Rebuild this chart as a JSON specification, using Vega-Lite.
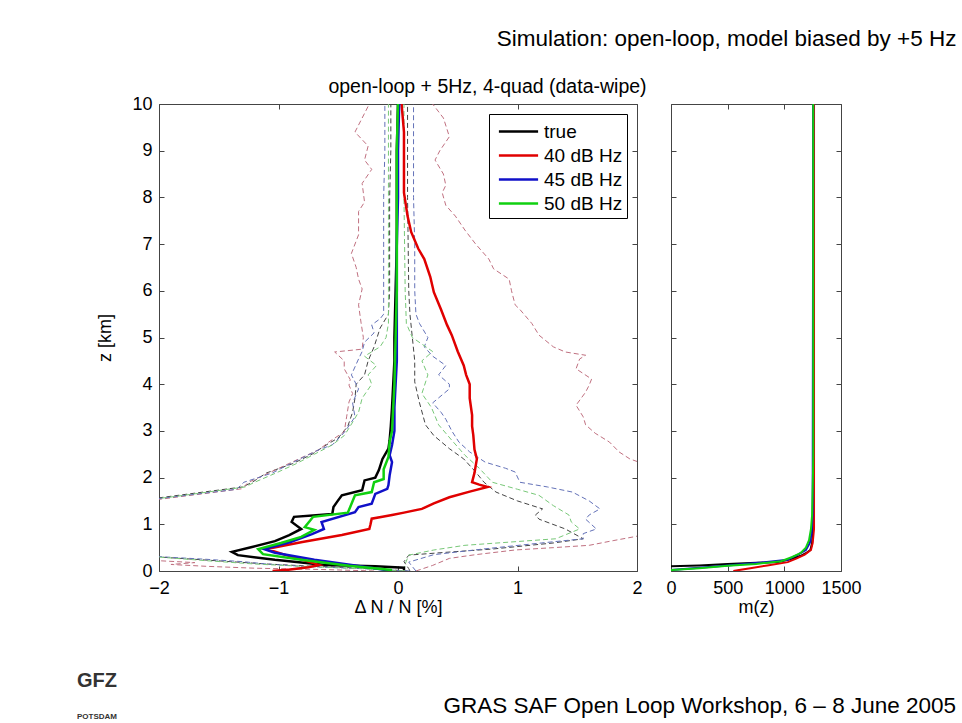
{
  "$schema": "https://vega.github.io/schema/vega-lite/v6.json",
  "background": "white",
  "padding": {"left": 76, "top": 27, "right": 0, "bottom": 0},
  "title": {"text": "Simulation: open-loop, model biased by +5 Hz", "anchor": "end", "fontSize": 22.5, "fontWeight": "normal", "color": "black", "offset": 27, "dx": 0},
  "datasets": {
    "solid": [
      {"s":"true","z":10,"x":0.0},{"s":"true","z":9,"x":-0.01},{"s":"true","z":8,"x":-0.01},{"s":"true","z":7,"x":-0.01},{"s":"true","z":6,"x":-0.02},{"s":"true","z":5,"x":-0.03},{"s":"true","z":4.5,"x":-0.03},{"s":"true","z":4,"x":-0.04},{"s":"true","z":3.5,"x":-0.05},{"s":"true","z":3.1,"x":-0.06},{"s":"true","z":2.8,"x":-0.07},{"s":"true","z":2.62,"x":-0.08},{"s":"true","z":2.4,"x":-0.13},{"s":"true","z":2.16,"x":-0.16},{"s":"true","z":2.0,"x":-0.19},{"s":"true","z":1.94,"x":-0.28},{"s":"true","z":1.73,"x":-0.3},{"s":"true","z":1.62,"x":-0.47},{"s":"true","z":1.48,"x":-0.51},{"s":"true","z":1.37,"x":-0.54},{"s":"true","z":1.22,"x":-0.55},{"s":"true","z":1.16,"x":-0.87},{"s":"true","z":1.05,"x":-0.89},{"s":"true","z":0.9,"x":-0.81},{"s":"true","z":0.77,"x":-0.91},{"s":"true","z":0.64,"x":-1.03},{"s":"true","z":0.51,"x":-1.23},{"s":"true","z":0.41,"x":-1.39},{"s":"true","z":0.34,"x":-1.34},{"s":"true","z":0.24,"x":-1.03},{"s":"true","z":0.13,"x":-0.61},{"s":"true","z":0.1,"x":-0.19},{"s":"true","z":0.07,"x":0.05},{"s":"true","z":0.02,"x":0.05},
      {"s":"40 dB Hz","z":10,"x":0.03},{"s":"40 dB Hz","z":9.4,"x":0.05},{"s":"40 dB Hz","z":8.8,"x":0.05},{"s":"40 dB Hz","z":8.1,"x":0.05},{"s":"40 dB Hz","z":7.6,"x":0.08},{"s":"40 dB Hz","z":7.26,"x":0.11},{"s":"40 dB Hz","z":6.9,"x":0.17},{"s":"40 dB Hz","z":6.68,"x":0.22},{"s":"40 dB Hz","z":6.3,"x":0.27},{"s":"40 dB Hz","z":5.97,"x":0.3},{"s":"40 dB Hz","z":5.6,"x":0.36},{"s":"40 dB Hz","z":5.27,"x":0.41},{"s":"40 dB Hz","z":5.05,"x":0.45},{"s":"40 dB Hz","z":4.7,"x":0.5},{"s":"40 dB Hz","z":4.4,"x":0.55},{"s":"40 dB Hz","z":4.2,"x":0.57},{"s":"40 dB Hz","z":4.0,"x":0.6},{"s":"40 dB Hz","z":3.7,"x":0.6},{"s":"40 dB Hz","z":3.34,"x":0.62},{"s":"40 dB Hz","z":3.1,"x":0.62},{"s":"40 dB Hz","z":2.91,"x":0.63},{"s":"40 dB Hz","z":2.6,"x":0.64},{"s":"40 dB Hz","z":2.4,"x":0.66},{"s":"40 dB Hz","z":2.1,"x":0.64},{"s":"40 dB Hz","z":1.9,"x":0.62},{"s":"40 dB Hz","z":1.85,"x":0.68},{"s":"40 dB Hz","z":1.8,"x":0.75},{"s":"40 dB Hz","z":1.7,"x":0.6},{"s":"40 dB Hz","z":1.58,"x":0.43},{"s":"40 dB Hz","z":1.45,"x":0.3},{"s":"40 dB Hz","z":1.33,"x":0.2},{"s":"40 dB Hz","z":1.25,"x":0.05},{"s":"40 dB Hz","z":1.2,"x":-0.05},{"s":"40 dB Hz","z":1.16,"x":-0.13},{"s":"40 dB Hz","z":1.12,"x":-0.22},{"s":"40 dB Hz","z":1.0,"x":-0.23},{"s":"40 dB Hz","z":0.9,"x":-0.24},{"s":"40 dB Hz","z":0.77,"x":-0.47},{"s":"40 dB Hz","z":0.62,"x":-0.8},{"s":"40 dB Hz","z":0.47,"x":-1.1},{"s":"40 dB Hz","z":0.35,"x":-0.95},{"s":"40 dB Hz","z":0.2,"x":-0.75},{"s":"40 dB Hz","z":0.13,"x":-0.66},{"s":"40 dB Hz","z":0.08,"x":-0.75},{"s":"40 dB Hz","z":0.03,"x":-0.9},{"s":"40 dB Hz","z":0.0,"x":-1.05},
      {"s":"45 dB Hz","z":10,"x":0.01},{"s":"45 dB Hz","z":9,"x":0.0},{"s":"45 dB Hz","z":8,"x":0.0},{"s":"45 dB Hz","z":7,"x":-0.01},{"s":"45 dB Hz","z":6,"x":-0.01},{"s":"45 dB Hz","z":5,"x":-0.01},{"s":"45 dB Hz","z":4.5,"x":-0.01},{"s":"45 dB Hz","z":4,"x":-0.02},{"s":"45 dB Hz","z":3.5,"x":-0.03},{"s":"45 dB Hz","z":3.0,"x":-0.03},{"s":"45 dB Hz","z":2.7,"x":-0.05},{"s":"45 dB Hz","z":2.48,"x":-0.07},{"s":"45 dB Hz","z":2.33,"x":-0.05},{"s":"45 dB Hz","z":2.05,"x":-0.07},{"s":"45 dB Hz","z":1.84,"x":-0.08},{"s":"45 dB Hz","z":1.76,"x":-0.09},{"s":"45 dB Hz","z":1.65,"x":-0.19},{"s":"45 dB Hz","z":1.44,"x":-0.22},{"s":"45 dB Hz","z":1.37,"x":-0.33},{"s":"45 dB Hz","z":1.26,"x":-0.36},{"s":"45 dB Hz","z":1.05,"x":-0.64},{"s":"45 dB Hz","z":0.9,"x":-0.62},{"s":"45 dB Hz","z":0.79,"x":-0.72},{"s":"45 dB Hz","z":0.62,"x":-0.9},{"s":"45 dB Hz","z":0.47,"x":-1.12},{"s":"45 dB Hz","z":0.39,"x":-1.03},{"s":"45 dB Hz","z":0.24,"x":-0.7},{"s":"45 dB Hz","z":0.11,"x":-0.33},{"s":"45 dB Hz","z":0.0,"x":-0.05},
      {"s":"50 dB Hz","z":10,"x":0.0},{"s":"50 dB Hz","z":9,"x":-0.01},{"s":"50 dB Hz","z":8,"x":-0.01},{"s":"50 dB Hz","z":7,"x":-0.01},{"s":"50 dB Hz","z":6,"x":-0.01},{"s":"50 dB Hz","z":5,"x":-0.02},{"s":"50 dB Hz","z":4,"x":-0.03},{"s":"50 dB Hz","z":3.5,"x":-0.04},{"s":"50 dB Hz","z":3.0,"x":-0.05},{"s":"50 dB Hz","z":2.76,"x":-0.07},{"s":"50 dB Hz","z":2.44,"x":-0.08},{"s":"50 dB Hz","z":2.18,"x":-0.12},{"s":"50 dB Hz","z":1.97,"x":-0.12},{"s":"50 dB Hz","z":1.9,"x":-0.2},{"s":"50 dB Hz","z":1.69,"x":-0.22},{"s":"50 dB Hz","z":1.62,"x":-0.36},{"s":"50 dB Hz","z":1.37,"x":-0.4},{"s":"50 dB Hz","z":1.25,"x":-0.42},{"s":"50 dB Hz","z":1.16,"x":-0.71},{"s":"50 dB Hz","z":0.94,"x":-0.78},{"s":"50 dB Hz","z":0.88,"x":-0.7},{"s":"50 dB Hz","z":0.73,"x":-0.81},{"s":"50 dB Hz","z":0.6,"x":-0.98},{"s":"50 dB Hz","z":0.47,"x":-1.17},{"s":"50 dB Hz","z":0.36,"x":-1.13},{"s":"50 dB Hz","z":0.24,"x":-0.81},{"s":"50 dB Hz","z":0.11,"x":-0.41},{"s":"50 dB Hz","z":0.02,"x":-0.05}
    ],
    "dash": [
      {"s":"true","side":"L","z":10,"x":-0.06},{"s":"true","side":"L","z":9,"x":-0.06},{"s":"true","side":"L","z":8,"x":-0.07},{"s":"true","side":"L","z":7,"x":-0.07},{"s":"true","side":"L","z":6,"x":-0.07},{"s":"true","side":"L","z":5.5,"x":-0.08},{"s":"true","side":"L","z":5.2,"x":-0.15},{"s":"true","side":"L","z":4.8,"x":-0.2},{"s":"true","side":"L","z":4.5,"x":-0.25},{"s":"true","side":"L","z":4.2,"x":-0.28},{"s":"true","side":"L","z":4.0,"x":-0.35},{"s":"true","side":"L","z":3.7,"x":-0.36},{"s":"true","side":"L","z":3.4,"x":-0.38},{"s":"true","side":"L","z":3.1,"x":-0.42},{"s":"true","side":"L","z":2.85,"x":-0.5},{"s":"true","side":"L","z":2.7,"x":-0.6},{"s":"true","side":"L","z":2.5,"x":-0.72},{"s":"true","side":"L","z":2.3,"x":-0.88},{"s":"true","side":"L","z":2.1,"x":-1.1},{"s":"true","side":"L","z":1.9,"x":-1.22},{"s":"true","side":"L","z":1.8,"x":-1.3},{"s":"true","side":"L","z":1.6,"x":-1.9},{"s":"true","side":"L","z":1.5,"x":-2.2},{"s":"true","side":"L","z":1.2,"x":-2.8},{"s":"true","side":"L","z":0.8,"x":-3.1},{"s":"true","side":"L","z":0.4,"x":-2.5},{"s":"true","side":"L","z":0.3,"x":-2.0},{"s":"true","side":"L","z":0.25,"x":-1.7},{"s":"true","side":"L","z":0.2,"x":-1.4},{"s":"true","side":"L","z":0.15,"x":-1.1},{"s":"true","side":"L","z":0.1,"x":-0.7},{"s":"true","side":"L","z":0.05,"x":-0.2},{"s":"true","side":"L","z":0,"x":0.08},
      {"s":"true","side":"R","z":10,"x":0.08},{"s":"true","side":"R","z":8,"x":0.08},{"s":"true","side":"R","z":6,"x":0.09},{"s":"true","side":"R","z":5.5,"x":0.1},{"s":"true","side":"R","z":5.0,"x":0.12},{"s":"true","side":"R","z":4.5,"x":0.14},{"s":"true","side":"R","z":4.05,"x":0.14},{"s":"true","side":"R","z":3.6,"x":0.18},{"s":"true","side":"R","z":3.13,"x":0.23},{"s":"true","side":"R","z":2.9,"x":0.3},{"s":"true","side":"R","z":2.62,"x":0.43},{"s":"true","side":"R","z":2.4,"x":0.55},{"s":"true","side":"R","z":2.12,"x":0.65},{"s":"true","side":"R","z":1.9,"x":0.72},{"s":"true","side":"R","z":1.69,"x":0.82},{"s":"true","side":"R","z":1.5,"x":1.0},{"s":"true","side":"R","z":1.33,"x":1.21},{"s":"true","side":"R","z":1.2,"x":1.15},{"s":"true","side":"R","z":1.11,"x":1.18},{"s":"true","side":"R","z":0.9,"x":1.4},{"s":"true","side":"R","z":0.69,"x":1.55},{"s":"true","side":"R","z":0.6,"x":1.3},{"s":"true","side":"R","z":0.47,"x":0.79},{"s":"true","side":"R","z":0.4,"x":0.4},{"s":"true","side":"R","z":0.34,"x":0.09},{"s":"true","side":"R","z":0.2,"x":0.05},{"s":"true","side":"R","z":0.05,"x":0.09},{"s":"true","side":"R","z":0,"x":0.1},
      {"s":"40 dB Hz","side":"L","z":10,"x":-0.24},{"s":"40 dB Hz","side":"L","z":9.7,"x":-0.3},{"s":"40 dB Hz","side":"L","z":9.4,"x":-0.36},{"s":"40 dB Hz","side":"L","z":9.1,"x":-0.25},{"s":"40 dB Hz","side":"L","z":8.8,"x":-0.28},{"s":"40 dB Hz","side":"L","z":8.6,"x":-0.22},{"s":"40 dB Hz","side":"L","z":8.3,"x":-0.3},{"s":"40 dB Hz","side":"L","z":7.9,"x":-0.28},{"s":"40 dB Hz","side":"L","z":7.7,"x":-0.33},{"s":"40 dB Hz","side":"L","z":7.2,"x":-0.33},{"s":"40 dB Hz","side":"L","z":6.8,"x":-0.39},{"s":"40 dB Hz","side":"L","z":6.5,"x":-0.35},{"s":"40 dB Hz","side":"L","z":6.25,"x":-0.33},{"s":"40 dB Hz","side":"L","z":6.04,"x":-0.3},{"s":"40 dB Hz","side":"L","z":5.7,"x":-0.33},{"s":"40 dB Hz","side":"L","z":5.33,"x":-0.31},{"s":"40 dB Hz","side":"L","z":5.0,"x":-0.29},{"s":"40 dB Hz","side":"L","z":4.75,"x":-0.3},{"s":"40 dB Hz","side":"L","z":4.69,"x":-0.53},{"s":"40 dB Hz","side":"L","z":4.5,"x":-0.45},{"s":"40 dB Hz","side":"L","z":4.33,"x":-0.45},{"s":"40 dB Hz","side":"L","z":4.1,"x":-0.4},{"s":"40 dB Hz","side":"L","z":3.98,"x":-0.41},{"s":"40 dB Hz","side":"L","z":3.8,"x":-0.38},{"s":"40 dB Hz","side":"L","z":3.62,"x":-0.41},{"s":"40 dB Hz","side":"L","z":3.3,"x":-0.43},{"s":"40 dB Hz","side":"L","z":2.98,"x":-0.45},{"s":"40 dB Hz","side":"L","z":2.76,"x":-0.58},{"s":"40 dB Hz","side":"L","z":2.6,"x":-0.66},{"s":"40 dB Hz","side":"L","z":2.4,"x":-0.83},{"s":"40 dB Hz","side":"L","z":2.16,"x":-1.03},{"s":"40 dB Hz","side":"L","z":1.9,"x":-1.25},{"s":"40 dB Hz","side":"L","z":1.76,"x":-1.31},{"s":"40 dB Hz","side":"L","z":1.54,"x":-1.98},{"s":"40 dB Hz","side":"L","z":1.4,"x":-2.6},{"s":"40 dB Hz","side":"L","z":0.8,"x":-3.0},{"s":"40 dB Hz","side":"L","z":0.3,"x":-2.4},{"s":"40 dB Hz","side":"L","z":0.22,"x":-2.0},{"s":"40 dB Hz","side":"L","z":0.18,"x":-1.7},{"s":"40 dB Hz","side":"L","z":0.14,"x":-1.9},{"s":"40 dB Hz","side":"L","z":0.1,"x":-1.6},{"s":"40 dB Hz","side":"L","z":0.06,"x":-1.2},{"s":"40 dB Hz","side":"L","z":0.03,"x":-0.6},{"s":"40 dB Hz","side":"L","z":0,"x":-0.2},
      {"s":"40 dB Hz","side":"R","z":10,"x":0.29},{"s":"40 dB Hz","side":"R","z":9.7,"x":0.38},{"s":"40 dB Hz","side":"R","z":9.3,"x":0.43},{"s":"40 dB Hz","side":"R","z":9.0,"x":0.35},{"s":"40 dB Hz","side":"R","z":8.8,"x":0.31},{"s":"40 dB Hz","side":"R","z":8.5,"x":0.38},{"s":"40 dB Hz","side":"R","z":8.26,"x":0.4},{"s":"40 dB Hz","side":"R","z":8.1,"x":0.37},{"s":"40 dB Hz","side":"R","z":7.83,"x":0.4},{"s":"40 dB Hz","side":"R","z":7.6,"x":0.48},{"s":"40 dB Hz","side":"R","z":7.3,"x":0.56},{"s":"40 dB Hz","side":"R","z":7.0,"x":0.65},{"s":"40 dB Hz","side":"R","z":6.68,"x":0.76},{"s":"40 dB Hz","side":"R","z":6.47,"x":0.8},{"s":"40 dB Hz","side":"R","z":6.25,"x":0.93},{"s":"40 dB Hz","side":"R","z":6.0,"x":0.95},{"s":"40 dB Hz","side":"R","z":5.7,"x":0.98},{"s":"40 dB Hz","side":"R","z":5.6,"x":1.02},{"s":"40 dB Hz","side":"R","z":5.3,"x":1.12},{"s":"40 dB Hz","side":"R","z":5.05,"x":1.18},{"s":"40 dB Hz","side":"R","z":4.8,"x":1.3},{"s":"40 dB Hz","side":"R","z":4.69,"x":1.4},{"s":"40 dB Hz","side":"R","z":4.62,"x":1.57},{"s":"40 dB Hz","side":"R","z":4.54,"x":1.52},{"s":"40 dB Hz","side":"R","z":4.33,"x":1.49},{"s":"40 dB Hz","side":"R","z":4.11,"x":1.62},{"s":"40 dB Hz","side":"R","z":3.98,"x":1.6},{"s":"40 dB Hz","side":"R","z":3.83,"x":1.57},{"s":"40 dB Hz","side":"R","z":3.55,"x":1.49},{"s":"40 dB Hz","side":"R","z":3.3,"x":1.55},{"s":"40 dB Hz","side":"R","z":3.13,"x":1.57},{"s":"40 dB Hz","side":"R","z":2.95,"x":1.65},{"s":"40 dB Hz","side":"R","z":2.76,"x":1.77},{"s":"40 dB Hz","side":"R","z":2.55,"x":1.85},{"s":"40 dB Hz","side":"R","z":2.4,"x":1.94},{"s":"40 dB Hz","side":"R","z":2.3,"x":2.05},{"s":"40 dB Hz","side":"R","z":2.0,"x":2.4},{"s":"40 dB Hz","side":"R","z":1.0,"x":2.6},{"s":"40 dB Hz","side":"R","z":0.8,"x":2.1},{"s":"40 dB Hz","side":"R","z":0.73,"x":1.97},{"s":"40 dB Hz","side":"R","z":0.65,"x":1.8},{"s":"40 dB Hz","side":"R","z":0.55,"x":1.6},{"s":"40 dB Hz","side":"R","z":0.5,"x":1.3},{"s":"40 dB Hz","side":"R","z":0.45,"x":0.98},{"s":"40 dB Hz","side":"R","z":0.35,"x":0.65},{"s":"40 dB Hz","side":"R","z":0.27,"x":0.43},{"s":"40 dB Hz","side":"R","z":0.12,"x":0.29},{"s":"40 dB Hz","side":"R","z":0,"x":0.15},
      {"s":"45 dB Hz","side":"L","z":10,"x":-0.11},{"s":"45 dB Hz","side":"L","z":9,"x":-0.11},{"s":"45 dB Hz","side":"L","z":8,"x":-0.12},{"s":"45 dB Hz","side":"L","z":7,"x":-0.12},{"s":"45 dB Hz","side":"L","z":6,"x":-0.12},{"s":"45 dB Hz","side":"L","z":5.5,"x":-0.12},{"s":"45 dB Hz","side":"L","z":5.4,"x":-0.15},{"s":"45 dB Hz","side":"L","z":5.27,"x":-0.22},{"s":"45 dB Hz","side":"L","z":5.1,"x":-0.2},{"s":"45 dB Hz","side":"L","z":4.9,"x":-0.28},{"s":"45 dB Hz","side":"L","z":4.7,"x":-0.3},{"s":"45 dB Hz","side":"L","z":4.54,"x":-0.33},{"s":"45 dB Hz","side":"L","z":4.2,"x":-0.39},{"s":"45 dB Hz","side":"L","z":3.9,"x":-0.33},{"s":"45 dB Hz","side":"L","z":3.6,"x":-0.38},{"s":"45 dB Hz","side":"L","z":3.3,"x":-0.36},{"s":"45 dB Hz","side":"L","z":3.0,"x":-0.44},{"s":"45 dB Hz","side":"L","z":2.91,"x":-0.47},{"s":"45 dB Hz","side":"L","z":2.7,"x":-0.55},{"s":"45 dB Hz","side":"L","z":2.6,"x":-0.66},{"s":"45 dB Hz","side":"L","z":2.45,"x":-0.78},{"s":"45 dB Hz","side":"L","z":2.3,"x":-0.9},{"s":"45 dB Hz","side":"L","z":2.1,"x":-1.05},{"s":"45 dB Hz","side":"L","z":1.9,"x":-1.29},{"s":"45 dB Hz","side":"L","z":1.75,"x":-1.35},{"s":"45 dB Hz","side":"L","z":1.55,"x":-2.0},{"s":"45 dB Hz","side":"L","z":1.4,"x":-2.6},{"s":"45 dB Hz","side":"L","z":0.8,"x":-3.2},{"s":"45 dB Hz","side":"L","z":0.32,"x":-2.05},{"s":"45 dB Hz","side":"L","z":0.3,"x":-1.95},{"s":"45 dB Hz","side":"L","z":0.25,"x":-1.6},{"s":"45 dB Hz","side":"L","z":0.2,"x":-1.3},{"s":"45 dB Hz","side":"L","z":0.15,"x":-1.1},{"s":"45 dB Hz","side":"L","z":0.1,"x":-0.8},{"s":"45 dB Hz","side":"L","z":0.05,"x":-0.3},{"s":"45 dB Hz","side":"L","z":0,"x":0.1},
      {"s":"45 dB Hz","side":"R","z":10,"x":0.13},{"s":"45 dB Hz","side":"R","z":9,"x":0.13},{"s":"45 dB Hz","side":"R","z":8,"x":0.13},{"s":"45 dB Hz","side":"R","z":7,"x":0.14},{"s":"45 dB Hz","side":"R","z":6,"x":0.14},{"s":"45 dB Hz","side":"R","z":5.5,"x":0.15},{"s":"45 dB Hz","side":"R","z":5.3,"x":0.18},{"s":"45 dB Hz","side":"R","z":5.0,"x":0.25},{"s":"45 dB Hz","side":"R","z":4.8,"x":0.22},{"s":"45 dB Hz","side":"R","z":4.6,"x":0.29},{"s":"45 dB Hz","side":"R","z":4.4,"x":0.4},{"s":"45 dB Hz","side":"R","z":4.2,"x":0.34},{"s":"45 dB Hz","side":"R","z":4.0,"x":0.43},{"s":"45 dB Hz","side":"R","z":3.9,"x":0.43},{"s":"45 dB Hz","side":"R","z":3.6,"x":0.29},{"s":"45 dB Hz","side":"R","z":3.4,"x":0.36},{"s":"45 dB Hz","side":"R","z":3.25,"x":0.4},{"s":"45 dB Hz","side":"R","z":3.0,"x":0.45},{"s":"45 dB Hz","side":"R","z":2.76,"x":0.51},{"s":"45 dB Hz","side":"R","z":2.55,"x":0.6},{"s":"45 dB Hz","side":"R","z":2.33,"x":0.73},{"s":"45 dB Hz","side":"R","z":2.2,"x":0.9},{"s":"45 dB Hz","side":"R","z":2.12,"x":0.98},{"s":"45 dB Hz","side":"R","z":1.9,"x":1.02},{"s":"45 dB Hz","side":"R","z":1.8,"x":1.25},{"s":"45 dB Hz","side":"R","z":1.69,"x":1.46},{"s":"45 dB Hz","side":"R","z":1.5,"x":1.6},{"s":"45 dB Hz","side":"R","z":1.33,"x":1.69},{"s":"45 dB Hz","side":"R","z":1.2,"x":1.6},{"s":"45 dB Hz","side":"R","z":1.11,"x":1.57},{"s":"45 dB Hz","side":"R","z":0.9,"x":1.66},{"s":"45 dB Hz","side":"R","z":0.8,"x":1.55},{"s":"45 dB Hz","side":"R","z":0.69,"x":1.55},{"s":"45 dB Hz","side":"R","z":0.6,"x":1.2},{"s":"45 dB Hz","side":"R","z":0.47,"x":0.71},{"s":"45 dB Hz","side":"R","z":0.35,"x":0.3},{"s":"45 dB Hz","side":"R","z":0.19,"x":0.09},{"s":"45 dB Hz","side":"R","z":0,"x":0.15},
      {"s":"50 dB Hz","side":"L","z":10,"x":-0.08},{"s":"50 dB Hz","side":"L","z":8,"x":-0.08},{"s":"50 dB Hz","side":"L","z":6,"x":-0.08},{"s":"50 dB Hz","side":"L","z":5.3,"x":-0.08},{"s":"50 dB Hz","side":"L","z":5.0,"x":-0.1},{"s":"50 dB Hz","side":"L","z":4.8,"x":-0.15},{"s":"50 dB Hz","side":"L","z":4.6,"x":-0.28},{"s":"50 dB Hz","side":"L","z":4.4,"x":-0.18},{"s":"50 dB Hz","side":"L","z":4.2,"x":-0.25},{"s":"50 dB Hz","side":"L","z":4.0,"x":-0.22},{"s":"50 dB Hz","side":"L","z":3.7,"x":-0.3},{"s":"50 dB Hz","side":"L","z":3.4,"x":-0.33},{"s":"50 dB Hz","side":"L","z":3.1,"x":-0.4},{"s":"50 dB Hz","side":"L","z":2.9,"x":-0.45},{"s":"50 dB Hz","side":"L","z":2.7,"x":-0.55},{"s":"50 dB Hz","side":"L","z":2.5,"x":-0.7},{"s":"50 dB Hz","side":"L","z":2.3,"x":-0.85},{"s":"50 dB Hz","side":"L","z":2.1,"x":-1.02},{"s":"50 dB Hz","side":"L","z":1.9,"x":-1.2},{"s":"50 dB Hz","side":"L","z":1.8,"x":-1.28},{"s":"50 dB Hz","side":"L","z":1.6,"x":-1.85},{"s":"50 dB Hz","side":"L","z":1.55,"x":-2.01},{"s":"50 dB Hz","side":"L","z":1.4,"x":-2.5},{"s":"50 dB Hz","side":"L","z":0.8,"x":-3.0},{"s":"50 dB Hz","side":"L","z":0.3,"x":-2.01},{"s":"50 dB Hz","side":"L","z":0.22,"x":-1.6},{"s":"50 dB Hz","side":"L","z":0.15,"x":-1.2},{"s":"50 dB Hz","side":"L","z":0.1,"x":-0.8},{"s":"50 dB Hz","side":"L","z":0.05,"x":-0.3},{"s":"50 dB Hz","side":"L","z":0,"x":0.05},
      {"s":"50 dB Hz","side":"R","z":10,"x":0.05},{"s":"50 dB Hz","side":"R","z":8,"x":0.05},{"s":"50 dB Hz","side":"R","z":6,"x":0.06},{"s":"50 dB Hz","side":"R","z":5.3,"x":0.07},{"s":"50 dB Hz","side":"R","z":5.0,"x":0.12},{"s":"50 dB Hz","side":"R","z":4.7,"x":0.29},{"s":"50 dB Hz","side":"R","z":4.5,"x":0.2},{"s":"50 dB Hz","side":"R","z":4.2,"x":0.25},{"s":"50 dB Hz","side":"R","z":3.8,"x":0.2},{"s":"50 dB Hz","side":"R","z":3.5,"x":0.28},{"s":"50 dB Hz","side":"R","z":3.13,"x":0.34},{"s":"50 dB Hz","side":"R","z":2.8,"x":0.45},{"s":"50 dB Hz","side":"R","z":2.48,"x":0.56},{"s":"50 dB Hz","side":"R","z":2.2,"x":0.68},{"s":"50 dB Hz","side":"R","z":1.9,"x":0.79},{"s":"50 dB Hz","side":"R","z":1.75,"x":1.0},{"s":"50 dB Hz","side":"R","z":1.62,"x":1.18},{"s":"50 dB Hz","side":"R","z":1.4,"x":1.3},{"s":"50 dB Hz","side":"R","z":1.2,"x":1.43},{"s":"50 dB Hz","side":"R","z":1.05,"x":1.45},{"s":"50 dB Hz","side":"R","z":0.9,"x":1.52},{"s":"50 dB Hz","side":"R","z":0.69,"x":1.32},{"s":"50 dB Hz","side":"R","z":0.55,"x":0.56},{"s":"50 dB Hz","side":"R","z":0.45,"x":0.3},{"s":"50 dB Hz","side":"R","z":0.34,"x":0.09},{"s":"50 dB Hz","side":"R","z":0.15,"x":0.06},{"s":"50 dB Hz","side":"R","z":0,"x":0.05}
    ],
    "mz": [
      {"s":"true","z":10,"m":1255},{"s":"true","z":3,"m":1255},{"s":"true","z":1.5,"m":1255},{"s":"true","z":1.1,"m":1253},{"s":"true","z":0.8,"m":1250},{"s":"true","z":0.6,"m":1245},{"s":"true","z":0.45,"m":1230},{"s":"true","z":0.38,"m":1190},{"s":"true","z":0.32,"m":1140},{"s":"true","z":0.25,"m":1050},{"s":"true","z":0.19,"m":944},{"s":"true","z":0.17,"m":700},{"s":"true","z":0.15,"m":500},{"s":"true","z":0.12,"m":250},{"s":"true","z":0.1,"m":0},
      {"s":"40 dB Hz","z":10,"m":1262},{"s":"40 dB Hz","z":2.5,"m":1262},{"s":"40 dB Hz","z":1.5,"m":1262},{"s":"40 dB Hz","z":0.9,"m":1262},{"s":"40 dB Hz","z":0.6,"m":1250},{"s":"40 dB Hz","z":0.45,"m":1235},{"s":"40 dB Hz","z":0.35,"m":1180},{"s":"40 dB Hz","z":0.27,"m":1110},{"s":"40 dB Hz","z":0.19,"m":1030},{"s":"40 dB Hz","z":0.12,"m":850},{"s":"40 dB Hz","z":0.06,"m":700},{"s":"40 dB Hz","z":0.02,"m":600},{"s":"40 dB Hz","z":0,"m":550},
      {"s":"45 dB Hz","z":10,"m":1255},{"s":"45 dB Hz","z":1.2,"m":1250},{"s":"45 dB Hz","z":0.8,"m":1240},{"s":"45 dB Hz","z":0.6,"m":1225},{"s":"45 dB Hz","z":0.45,"m":1190},{"s":"45 dB Hz","z":0.35,"m":1120},{"s":"45 dB Hz","z":0.28,"m":1060},{"s":"45 dB Hz","z":0.24,"m":1030},{"s":"45 dB Hz","z":0.18,"m":800},{"s":"45 dB Hz","z":0.12,"m":500},{"s":"45 dB Hz","z":0.07,"m":250},{"s":"45 dB Hz","z":0.02,"m":0},
      {"s":"50 dB Hz","z":10,"m":1255},{"s":"50 dB Hz","z":2.5,"m":1255},{"s":"50 dB Hz","z":2.1,"m":1253},{"s":"50 dB Hz","z":1.2,"m":1245},{"s":"50 dB Hz","z":0.9,"m":1235},{"s":"50 dB Hz","z":0.66,"m":1218},{"s":"50 dB Hz","z":0.5,"m":1190},{"s":"50 dB Hz","z":0.39,"m":1147},{"s":"50 dB Hz","z":0.3,"m":1070},{"s":"50 dB Hz","z":0.21,"m":971},{"s":"50 dB Hz","z":0.15,"m":750},{"s":"50 dB Hz","z":0.11,"m":500},{"s":"50 dB Hz","z":0.06,"m":250},{"s":"50 dB Hz","z":0.02,"m":0}
    ]
  },
  "vconcat": [
    {
      "title": {"text": "open-loop + 5Hz, 4-quad (data-wipe)", "fontSize": 19.5, "fontWeight": "normal", "anchor": "middle", "offset": -3, "dx": -29, "color": "black"},
      "bounds": "flush",
      "spacing": 34,
      "resolve": {"scale": {"color": "independent"}, "legend": {"color": "independent"}},
      "hconcat": [
        {
          "width": 478,
          "height": 467,
          "title": {"text": "GFZ", "subtitle": "POTSDAM", "orient": "bottom", "anchor": "start", "frame": "group", "dx": -82, "offset": 55, "fontSize": 20, "fontWeight": "bold", "color": "#333333", "subtitleFontSize": 8, "subtitleFontWeight": "bold", "subtitleColor": "#333333", "subtitlePadding": 22},
          "resolve": {"axis": {"x": "independent", "y": "independent"}},
          "layer": [
            {
              "data": {"name": "dash"},
              "mark": {"type": "line", "clip": true, "strokeWidth": 1, "strokeDash": [5, 3]},
              "encoding": {
                "x": {"field": "x", "type": "quantitative", "scale": {"domain": [-2, 2], "nice": false, "zero": false}, "axis": {"orient": "top", "labels": false, "title": null, "values": [-2, -1, 0, 1, 2]}},
                "y": {"field": "z", "type": "quantitative", "scale": {"domain": [0, 10], "nice": false}, "axis": {"orient": "right", "labels": false, "title": null, "values": [0,1,2,3,4,5,6,7,8,9,10]}},
                "stroke": {"field": "s", "type": "nominal", "scale": {"domain": ["true", "40 dB Hz", "45 dB Hz", "50 dB Hz"], "range": ["#454545", "#c07080", "#6472b8", "#78c878"]}, "legend": null},
                "detail": {"field": "side", "type": "nominal"},
                "order": {"field": "z", "type": "quantitative"}
              }
            },
            {
              "data": {"name": "solid"},
              "mark": {"type": "line", "clip": true, "strokeWidth": 2.5},
              "encoding": {
                "x": {"field": "x", "type": "quantitative", "scale": {"domain": [-2, 2], "nice": false, "zero": false}, "axis": {"orient": "bottom", "title": "Δ N / N [%]", "values": [-2, -1, 0, 1, 2], "labelPadding": 13, "titlePadding": 1}},
                "y": {"field": "z", "type": "quantitative", "scale": {"domain": [0, 10], "nice": false}, "axis": {"orient": "left", "title": "z [km]", "values": [0,1,2,3,4,5,6,7,8,9,10], "labelPadding": 12, "minExtent": 40, "maxExtent": 40, "titlePadding": 5}},
                "color": {"field": "s", "type": "nominal", "scale": {"domain": ["true", "40 dB Hz", "45 dB Hz", "50 dB Hz"], "range": ["#000000", "#e00000", "#1010c8", "#10d010"]}, "legend": {"title": null}},
                "order": {"field": "z", "type": "quantitative"}
              }
            }
          ]
        },
        {
          "width": 170,
          "height": 467,
          "title": {"text": "GRAS SAF Open Loop Workshop, 6 – 8 June 2005", "orient": "bottom", "anchor": "end", "frame": "group", "dx": 115, "offset": 79, "fontSize": 22.5, "fontWeight": "normal", "color": "black"},
          "data": {"name": "mz"},
          "resolve": {"axis": {"x": "independent", "y": "independent"}},
          "layer": [
            {
              "mark": {"type": "line", "clip": true, "strokeWidth": 2, "opacity": 0},
              "encoding": {
                "x": {"field": "m", "type": "quantitative", "scale": {"domain": [0, 1500], "nice": false}, "axis": {"orient": "top", "labels": false, "title": null, "values": [0, 500, 1000, 1500]}},
                "y": {"field": "z", "type": "quantitative", "scale": {"domain": [0, 10], "nice": false}, "axis": {"orient": "right", "labels": false, "title": null, "values": [0,1,2,3,4,5,6,7,8,9,10]}},
                "detail": {"field": "s", "type": "nominal"},
                "order": {"field": "z", "type": "quantitative"}
              }
            },
            {
              "mark": {"type": "line", "clip": true, "strokeWidth": 2},
              "encoding": {
                "x": {"field": "m", "type": "quantitative", "scale": {"domain": [0, 1500], "nice": false}, "axis": {"orient": "bottom", "title": "m(z)", "format": "d", "values": [0, 500, 1000, 1500], "labelPadding": 13, "titlePadding": 1}},
                "y": {"field": "z", "type": "quantitative", "scale": {"domain": [0, 10], "nice": false}, "axis": {"orient": "left", "labels": false, "title": null, "values": [0,1,2,3,4,5,6,7,8,9,10]}},
                "color": {"field": "s", "type": "nominal", "scale": {"domain": ["true", "40 dB Hz", "45 dB Hz", "50 dB Hz"], "range": ["#000000", "#e00000", "#1010c8", "#10d010"]}, "legend": null},
                "order": {"field": "z", "type": "quantitative"}
              }
            }
          ]
        }
      ]
    }
  ],
  "config": {
    "font": "Liberation Sans",
    "view": {"stroke": "#444444", "strokeWidth": 1},
    "axis": {"labelFontSize": 18, "titleFontSize": 18, "titleFontWeight": "normal", "labelColor": "black", "titleColor": "black", "domain": false, "grid": false, "ticks": true, "tickSize": -5, "tickColor": "#444444", "labelFlush": false, "labelOverlap": false},
    "legend": {"orient": "top-right", "offset": 10, "strokeColor": "#000000", "fillColor": "white", "padding": 4, "labelFontSize": 19, "symbolType": "M-1.6,0H1.6", "symbolSize": 600, "symbolStrokeWidth": 2.5, "symbolOffset": 12, "rowPadding": 0, "labelOffset": 12, "labelLimit": 300, "labelColor": "black"},
    "title": {"font": "Liberation Sans"}
  }
}
